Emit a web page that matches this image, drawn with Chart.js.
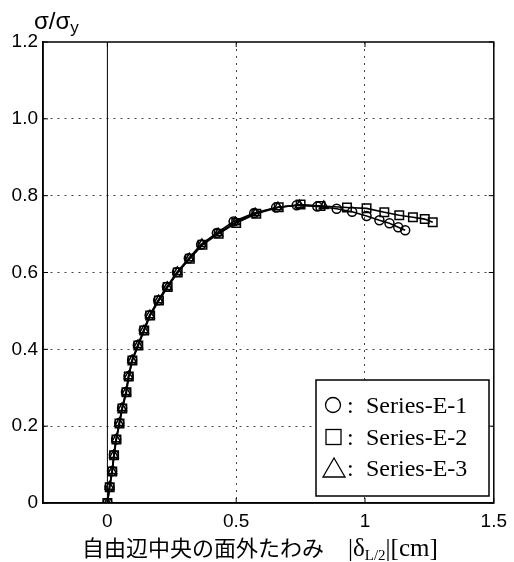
<!DOCTYPE html>
<html lang="ja">
<head>
<meta charset="UTF-8">
<title>σ/σy - 自由辺中央の面外たわみ</title>
<script src="https://cdn.jsdelivr.net/npm/chart.js@4.4.1/dist/chart.umd.min.js"></script>
<style>
  html, body { margin: 0; padding: 0; background: #fff; }
  #wrap { width: 514px; height: 562px; }
</style>
</head>
<body>
<div id="wrap"><canvas id="chart" width="514" height="562"></canvas></div>
<script>
// axis ticks
const xTicks = [0, 0.5, 1, 1.5];
const yTicks = [0, 0.2, 0.4, 0.6, 0.8, 1.0, 1.2];

const seriesNames = ['Series-E-1', 'Series-E-2', 'Series-E-3'];

// Series-E-1 (circles)
const e1X = [0, 0.008, 0.018, 0.025, 0.034, 0.046, 0.057, 0.072, 0.082, 0.096, 0.118, 0.141, 0.164, 0.197, 0.231, 0.27, 0.316, 0.364, 0.425, 0.49, 0.57, 0.655, 0.735, 0.815, 0.89, 0.95, 1.006, 1.056, 1.095, 1.129, 1.156];
const e1Y = [0, 0.042, 0.083, 0.125, 0.166, 0.208, 0.247, 0.289, 0.33, 0.372, 0.411, 0.45, 0.489, 0.528, 0.563, 0.601, 0.637, 0.673, 0.703, 0.733, 0.755, 0.769, 0.775, 0.772, 0.766, 0.758, 0.747, 0.736, 0.728, 0.718, 0.71];

// Series-E-2 (squares)
const e2X = [0, 0.009, 0.019, 0.026, 0.035, 0.047, 0.058, 0.074, 0.083, 0.097, 0.12, 0.143, 0.166, 0.2, 0.234, 0.273, 0.32, 0.369, 0.432, 0.5, 0.578, 0.665, 0.75, 0.827, 0.93, 1.006, 1.075, 1.133, 1.186, 1.232, 1.263];
const e2Y = [0, 0.041, 0.082, 0.124, 0.165, 0.207, 0.246, 0.288, 0.329, 0.371, 0.41, 0.449, 0.488, 0.527, 0.562, 0.6, 0.636, 0.672, 0.701, 0.729, 0.753, 0.77, 0.777, 0.773, 0.769, 0.767, 0.757, 0.749, 0.744, 0.739, 0.731];

// Series-E-3 (triangles)
const e3X = [0, 0.008, 0.019, 0.025, 0.034, 0.046, 0.057, 0.073, 0.082, 0.096, 0.119, 0.142, 0.165, 0.199, 0.233, 0.272, 0.318, 0.367, 0.43, 0.497, 0.574, 0.662, 0.746, 0.84];
const e3Y = [0, 0.042, 0.083, 0.125, 0.166, 0.208, 0.247, 0.289, 0.33, 0.372, 0.411, 0.45, 0.489, 0.528, 0.562, 0.601, 0.637, 0.674, 0.702, 0.731, 0.754, 0.77, 0.775, 0.773];

const toPoints = (xs, ys) => xs.map((x, i) => ({ x: x, y: ys[i] }));

const frame = {
  id: 'frame',
  beforeDatasetsDraw(chart) {
    const { ctx, chartArea: a, scales } = chart;
    // solid line at x = 0
    const x0 = scales.x.getPixelForValue(0);
    ctx.save();
    ctx.strokeStyle = '#000';
    ctx.lineWidth = 1;
    ctx.beginPath();
    ctx.moveTo(x0, a.top);
    ctx.lineTo(x0, a.bottom);
    ctx.stroke();
    ctx.restore();
  },
  afterDraw(chart) {
    const { ctx, chartArea: a, scales } = chart;
    ctx.save();
    // plot box
    ctx.strokeStyle = '#000';
    ctx.lineWidth = 1.5;
    ctx.strokeRect(a.left, a.top, a.right - a.left, a.bottom - a.top);
    // inward tick marks
    ctx.lineWidth = 1;
    xTicks.forEach(v => {
      const px = scales.x.getPixelForValue(v);
      ctx.beginPath();
      ctx.moveTo(px, a.bottom); ctx.lineTo(px, a.bottom - 5);
      ctx.moveTo(px, a.top); ctx.lineTo(px, a.top + 5);
      ctx.stroke();
    });
    yTicks.forEach(v => {
      const py = scales.y.getPixelForValue(v);
      ctx.beginPath();
      ctx.moveTo(a.left, py); ctx.lineTo(a.left + 5, py);
      ctx.moveTo(a.right, py); ctx.lineTo(a.right - 5, py);
      ctx.stroke();
    });

    // legend
    const lx = 316, ly = 380, lw = 173, lh = 116;
    ctx.fillStyle = '#fff';
    ctx.fillRect(lx, ly, lw, lh);
    ctx.lineWidth = 1.5;
    ctx.strokeRect(lx, ly, lw, lh);
    const rows = [405, 437, 468];
    ctx.fillStyle = '#000';
    ctx.lineWidth = 1.3;
    // circle
    ctx.beginPath();
    ctx.arc(333, rows[0], 7.5, 0, Math.PI * 2);
    ctx.stroke();
    // square
    ctx.strokeRect(326, rows[1] - 7.5, 15, 15);
    // triangle
    ctx.beginPath();
    ctx.moveTo(334, rows[2] - 10);
    ctx.lineTo(345, rows[2] + 9);
    ctx.lineTo(323, rows[2] + 9);
    ctx.closePath();
    ctx.stroke();
    ctx.font = '24px "Liberation Serif"';
    ctx.textBaseline = 'alphabetic';
    ctx.textAlign = 'left';
    seriesNames.forEach((name, i) => {
      ctx.fillText(':', 347, rows[i] + 8);
      ctx.fillText(name, 366, rows[i] + 8);
    });

    // y axis title
    ctx.font = '24px "Liberation Sans"';
    ctx.fillText('σ/σ', 34, 29);
    const w = ctx.measureText('σ/σ').width;
    ctx.font = '17px "Liberation Sans"';
    ctx.fillText('y', 34 + w, 33);

    // x axis title
    ctx.font = '22px "Noto Sans CJK JP"';
    ctx.fillText('自由辺中央の面外たわみ', 82, 556);
    ctx.font = '25px "Liberation Serif"';
    let x = 348;
    ctx.fillText('|', x, 556); x += ctx.measureText('|').width;
    ctx.fillText('δ', x, 556); x += ctx.measureText('δ').width;
    ctx.font = '15px "Liberation Serif"';
    ctx.fillText('L/2', x, 560); x += ctx.measureText('L/2').width;
    ctx.font = '25px "Liberation Serif"';
    ctx.fillText('|', x, 556); x += ctx.measureText('|').width;
    ctx.fillText('[cm]', x, 556);
    ctx.restore();
  }
};

const gridDash = [2, 5];

new Chart(document.getElementById('chart'), {
  type: 'scatter',
  data: {
    datasets: [
      { label: seriesNames[0], data: toPoints(e1X, e1Y), showLine: true, borderColor: '#000', borderWidth: 1.6,
        pointStyle: 'circle', pointRadius: 4.5, pointBorderWidth: 1.5, pointBackgroundColor: 'rgba(255,255,255,0)', pointBorderColor: '#000' },
      { label: seriesNames[1], data: toPoints(e2X, e2Y), showLine: true, borderColor: '#000', borderWidth: 1.6,
        pointStyle: 'rect', pointRadius: 6, pointBorderWidth: 1.5, pointBackgroundColor: 'rgba(255,255,255,0)', pointBorderColor: '#000' },
      { label: seriesNames[2], data: toPoints(e3X, e3Y), showLine: true, borderColor: '#000', borderWidth: 1.6,
        pointStyle: 'triangle', pointRadius: 5, pointBorderWidth: 1.5, pointBackgroundColor: 'rgba(255,255,255,0)', pointBorderColor: '#000' }
    ]
  },
  options: {
    responsive: false,
    animation: false,
    devicePixelRatio: 1,
    layout: { padding: { top: 42, right: 15, left: 0, bottom: 0 } },
    plugins: { legend: { display: false }, tooltip: { enabled: false } },
    scales: {
      x: {
        type: 'linear',
        min: -0.25,
        max: 1.5,
        afterBuildTicks: s => { s.ticks = xTicks.map(v => ({ value: v })); },
        afterFit: s => { s.height = 59; },
        grid: {
          drawTicks: false,
          lineWidth: 1,
          color: c => (c.tick && (c.tick.value === 0 || c.tick.value === 1.5)) ? 'rgba(0,0,0,0)' : '#444'
        },
        border: { display: true, color: '#000', width: 1.5, dash: gridDash },
        ticks: {
          padding: 7,
          color: '#000',
          font: { family: '"Liberation Sans", Arial, sans-serif', size: 19 },
          maxRotation: 0,
          callback: v => v === 0 ? '0' : String(v)
        }
      },
      y: {
        type: 'linear',
        min: 0,
        max: 1.2,
        afterBuildTicks: s => { s.ticks = yTicks.map(v => ({ value: v })); },
        afterFit: s => { s.width = 43; },
        grid: {
          drawTicks: false,
          lineWidth: 1,
          color: c => (c.tick && (c.tick.value === 0 || c.tick.value === 1.2)) ? 'rgba(0,0,0,0)' : '#444'
        },
        border: { display: true, color: '#000', width: 1.5, dash: gridDash },
        ticks: {
          padding: 5,
          color: '#000',
          font: { family: '"Liberation Sans", Arial, sans-serif', size: 19 },
          callback: v => v === 0 ? '0' : v.toFixed(1)
        }
      }
    }
  },
  plugins: [frame]
});
</script>
</body>
</html>
